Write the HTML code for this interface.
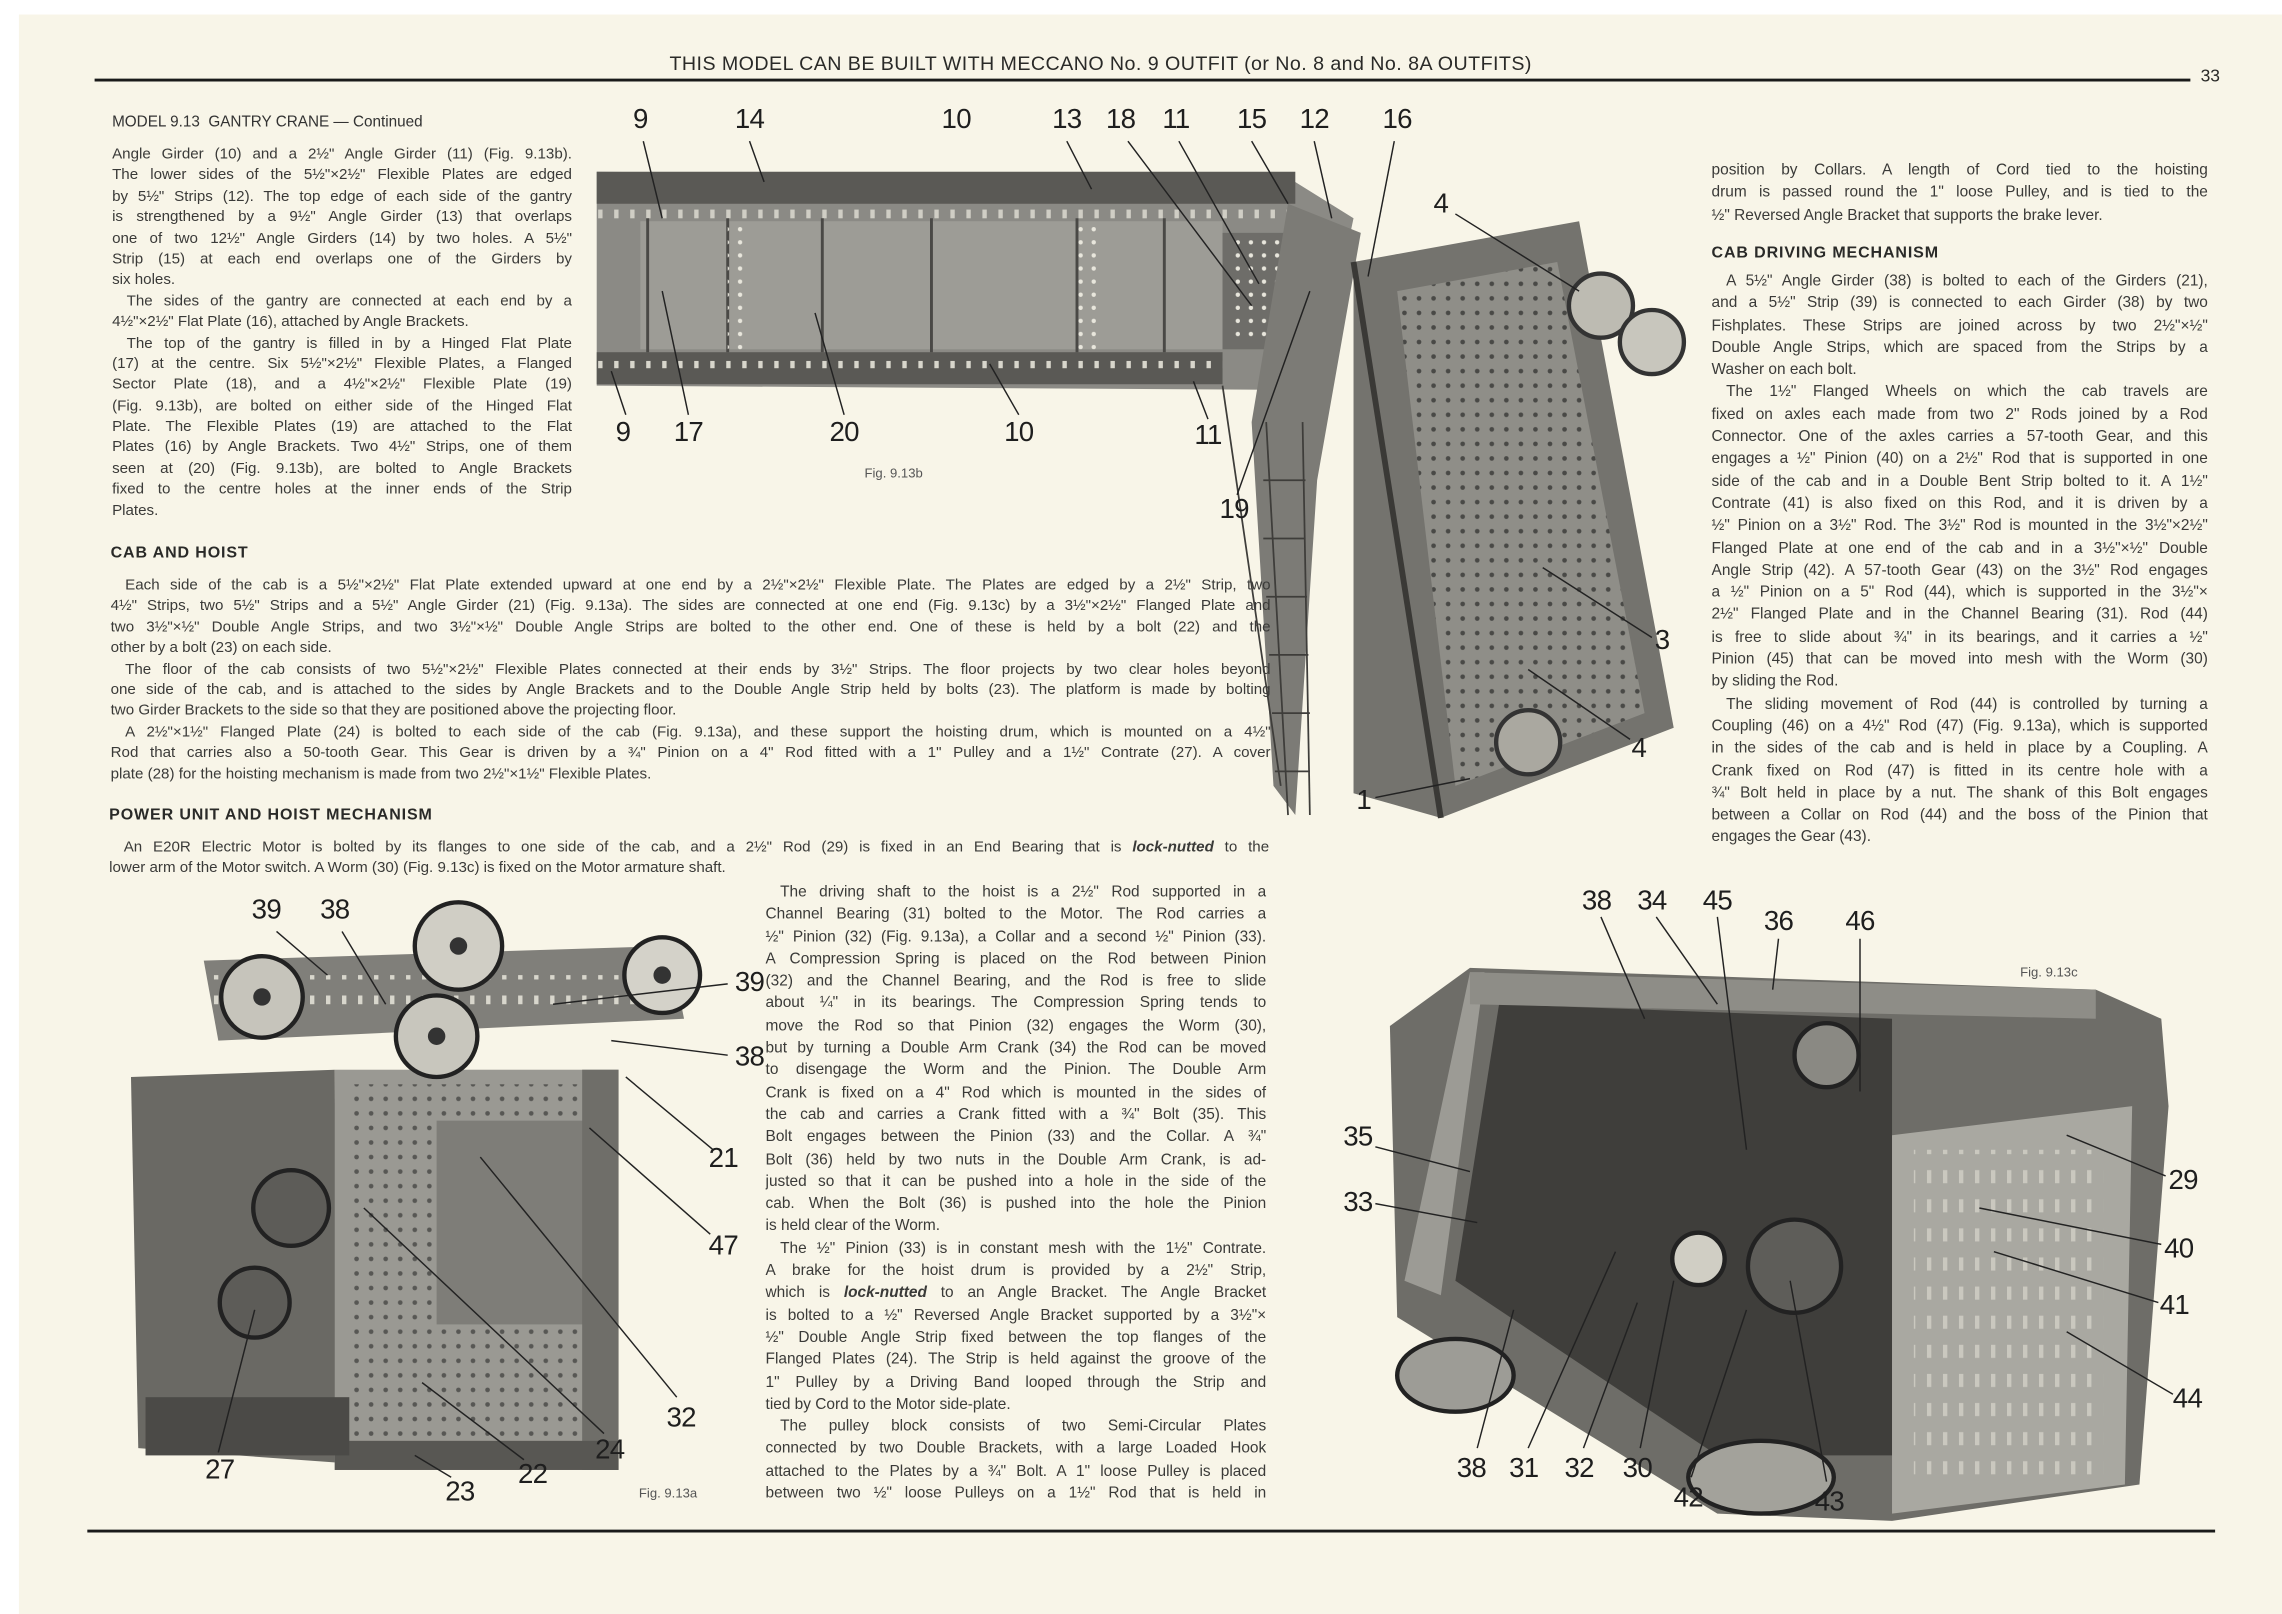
<!DOCTYPE html>
<html><head><meta charset="utf-8">
<style>
html,body{margin:0;padding:0;background:#fff;}
body{width:2282px;height:1614px;overflow:hidden;position:relative;}
#pg{position:absolute;left:0;top:0;width:1568px;height:1109px;transform:scale(1.4554);transform-origin:0 0;background:#fff;}
#paper{position:absolute;left:13px;top:10px;width:1555px;height:1099px;background:#f8f5e8;}
.t{position:absolute;font-family:"Liberation Sans",sans-serif;color:#3a3a38;font-size:10.4px;}
.t div{height:14.4px;line-height:14.4px;white-space:nowrap;text-align:justify;text-align-last:justify;overflow:hidden;}
.t div.e{text-align-last:left;}
.t div.i{text-indent:10px;}
.m{font-size:10.6px;}
.m div{height:15.3px;line-height:15.3px;}
.h{position:absolute;font-family:"Liberation Sans",sans-serif;font-weight:bold;font-size:11px;letter-spacing:0.6px;color:#2a2a28;}
.n{position:absolute;font-family:"Liberation Sans",sans-serif;font-size:19px;color:#1e1e1e;transform:translate(-50%,-50%);transform-origin:center;letter-spacing:-0.5px;}
.f{position:absolute;font-family:"Liberation Sans",sans-serif;font-size:9px;color:#555;}
</style></head><body>
<div id="pg">
<div id="paper"></div>

<svg style="position:absolute;left:0;top:0" width="1568" height="1109" viewBox="0 0 1568 1109">
<defs>
<pattern id="holes" width="9" height="9" patternUnits="userSpaceOnUse"><circle cx="4.5" cy="4.5" r="1.5" fill="#e8e6dc"/></pattern>
<pattern id="slots" width="11" height="20" patternUnits="userSpaceOnUse"><rect x="4" y="4" width="3" height="9" fill="#d8d6cc"/></pattern>
<pattern id="dholes" width="10" height="10" patternUnits="userSpaceOnUse"><circle cx="5" cy="5" r="1.6" fill="#2b2b2a"/></pattern>
</defs>
<line x1="65" y1="55" x2="1505" y2="55" stroke="#1a1a1a" stroke-width="2"/>
<line x1="60" y1="1052" x2="1522" y2="1052" stroke="#1a1a1a" stroke-width="2"/>

<!-- Fig 9.13b gantry -->
<polygon points="410,118 885,122 930,150 905,268 410,265" fill="#8b8a85"/>
<rect x="410" y="118" width="480" height="22" fill="#5a5955"/>
<rect x="410" y="140" width="480" height="10" fill="url(#slots)" opacity="0.9"/>
<rect x="410" y="242" width="430" height="22" fill="#5a5955"/>
<rect x="410" y="248" width="430" height="12" fill="url(#slots)"/>
<rect x="440" y="152" width="400" height="88" fill="#9d9c96"/>
<g stroke="#4a4946" stroke-width="2">
<line x1="445" y1="150" x2="445" y2="242"/><line x1="500" y1="150" x2="500" y2="242"/>
<line x1="565" y1="150" x2="565" y2="242"/><line x1="640" y1="150" x2="640" y2="242"/>
<line x1="740" y1="150" x2="740" y2="242"/><line x1="800" y1="150" x2="800" y2="242"/>
</g>
<rect x="500" y="152" width="16" height="88" fill="url(#holes)"/>
<rect x="740" y="152" width="16" height="88" fill="url(#holes)"/>
<rect x="840" y="160" width="60" height="80" fill="#6e6d69"/>
<rect x="845" y="165" width="40" height="70" fill="url(#holes)"/>
<polygon points="885,140 935,160 905,330 890,560 875,540 860,290" fill="#7c7b76"/>
<g stroke="#3e3d3a" stroke-width="1.2">
<line x1="870" y1="290" x2="885" y2="560"/><line x1="895" y1="290" x2="900" y2="560"/>
<line x1="868" y1="330" x2="897" y2="330"/><line x1="868" y1="370" x2="897" y2="370"/>
<line x1="870" y1="410" x2="898" y2="410"/><line x1="872" y1="450" x2="899" y2="450"/>
<line x1="874" y1="490" x2="900" y2="490"/><line x1="876" y1="530" x2="900" y2="530"/>
<line x1="840" y1="265" x2="880" y2="540"/>
</g>
<polygon points="930,180 1085,152 1150,500 990,562 930,545" fill="#74736e"/>
<polygon points="960,200 1070,180 1130,490 1000,540" fill="#8f8e88"/>
<polygon points="960,200 1070,180 1130,490 1000,540" fill="url(#dholes)" opacity="0.7"/>
<circle cx="1100" cy="210" r="22" fill="#bdbbb2" stroke="#333" stroke-width="3"/>
<circle cx="1135" cy="235" r="22" fill="#c8c6bd" stroke="#333" stroke-width="3"/>
<circle cx="1050" cy="510" r="22" fill="#aaa8a0" stroke="#333" stroke-width="3"/>
<line x1="930" y1="180" x2="990" y2="562" stroke="#3a3936" stroke-width="4"/>
<g stroke="#222" stroke-width="1">
<line x1="442" y1="97" x2="455" y2="150"/><line x1="515" y1="97" x2="525" y2="125"/>
<line x1="733" y1="97" x2="750" y2="130"/><line x1="775" y1="97" x2="860" y2="210"/>
<line x1="810" y1="97" x2="865" y2="195"/><line x1="860" y1="97" x2="885" y2="140"/>
<line x1="903" y1="97" x2="915" y2="150"/><line x1="958" y1="97" x2="940" y2="190"/>
<line x1="1000" y1="147" x2="1085" y2="200"/><line x1="430" y1="285" x2="420" y2="255"/>
<line x1="473" y1="285" x2="455" y2="200"/><line x1="580" y1="285" x2="560" y2="215"/>
<line x1="700" y1="285" x2="680" y2="250"/><line x1="830" y1="288" x2="820" y2="262"/>
<line x1="850" y1="340" x2="900" y2="200"/><line x1="1135" y1="438" x2="1060" y2="390"/>
<line x1="1120" y1="508" x2="1050" y2="460"/><line x1="945" y1="548" x2="1010" y2="535"/>
</g>

<!-- Fig 9.13a cab -->
<polygon points="90,740 230,735 232,1005 95,995" fill="#6a6964"/>
<rect x="230" y="735" width="195" height="275" fill="#9a9993"/>
<rect x="240" y="745" width="175" height="255" fill="url(#dholes)" opacity="0.6"/>
<rect x="300" y="770" width="110" height="140" fill="#7e7d78"/>
<rect x="400" y="735" width="25" height="275" fill="#6f6e69"/>
<rect x="230" y="990" width="195" height="20" fill="#585753"/>
<polygon points="140,660 460,650 470,700 150,715" fill="#807f7a"/>
<rect x="145" y="670" width="320" height="20" fill="url(#slots)"/>
<g stroke="#222" stroke-width="3">
<circle cx="180" cy="685" r="28" fill="#c6c4bb"/><circle cx="315" cy="650" r="30" fill="#d0cec5"/>
<circle cx="300" cy="712" r="28" fill="#c8c6bd"/><circle cx="455" cy="670" r="26" fill="#d4d2c9"/>
<circle cx="200" cy="830" r="26" fill="#5d5c58"/><circle cx="175" cy="895" r="24" fill="#5d5c58"/>
</g>
<circle cx="180" cy="685" r="6" fill="#333"/><circle cx="315" cy="650" r="6" fill="#333"/>
<circle cx="300" cy="712" r="6" fill="#333"/><circle cx="455" cy="670" r="6" fill="#333"/>
<rect x="100" y="960" width="140" height="40" fill="#4b4a47"/>
<g stroke="#222" stroke-width="1">
<line x1="190" y1="640" x2="225" y2="670"/><line x1="235" y1="640" x2="265" y2="690"/>
<line x1="500" y1="676" x2="380" y2="690"/><line x1="500" y1="725" x2="420" y2="715"/>
<line x1="490" y1="790" x2="430" y2="740"/><line x1="488" y1="848" x2="405" y2="775"/>
<line x1="465" y1="960" x2="330" y2="795"/><line x1="415" y1="985" x2="250" y2="830"/>
<line x1="360" y1="1003" x2="290" y2="950"/><line x1="310" y1="1015" x2="285" y2="1000"/>
<line x1="150" y1="998" x2="175" y2="900"/>
</g>

<!-- Fig 9.13c -->
<polygon points="1010,665 1440,680 1485,700 1490,760 1470,1020 1300,1045 1180,1040 960,905 955,705" fill="#6e6d68"/>
<polygon points="1030,690 1300,700 1300,1000 1180,1000 1000,880" fill="#3f3e3b"/>
<polygon points="1300,780 1465,760 1460,1020 1300,1040" fill="#a9a8a1"/>
<rect x="1315" y="790" width="130" height="230" fill="url(#slots)" opacity="0.7"/>
<polygon points="1010,668 1020,668 990,890 965,880" fill="#9c9b95"/>
<polygon points="1010,668 1440,680 1440,700 1010,690" fill="#8e8d87"/>
<g stroke="#222" stroke-width="3">
<circle cx="1233" cy="870" r="32" fill="#5e5d59"/><circle cx="1167" cy="865" r="18" fill="#d0cec4"/>
<ellipse cx="1000" cy="945" rx="40" ry="25" fill="#9d9c96"/><ellipse cx="1210" cy="1015" rx="50" ry="25" fill="#a3a29b"/>
<circle cx="1255" cy="725" r="22" fill="#8a8983"/>
</g>
<g stroke="#222" stroke-width="1">
<line x1="1100" y1="630" x2="1130" y2="700"/><line x1="1138" y1="630" x2="1180" y2="690"/>
<line x1="1180" y1="630" x2="1200" y2="790"/><line x1="1222" y1="645" x2="1218" y2="680"/>
<line x1="1278" y1="645" x2="1278" y2="750"/><line x1="945" y1="788" x2="1010" y2="805"/>
<line x1="945" y1="827" x2="1015" y2="840"/><line x1="1488" y1="808" x2="1420" y2="780"/>
<line x1="1485" y1="855" x2="1360" y2="830"/><line x1="1483" y1="895" x2="1370" y2="860"/>
<line x1="1493" y1="958" x2="1420" y2="915"/><line x1="1015" y1="995" x2="1040" y2="900"/>
<line x1="1050" y1="995" x2="1110" y2="860"/><line x1="1088" y1="995" x2="1125" y2="895"/>
<line x1="1127" y1="995" x2="1150" y2="880"/><line x1="1162" y1="1015" x2="1200" y2="900"/>
<line x1="1255" y1="1018" x2="1230" y2="880"/>
</g>
</svg>

<div style="position:absolute;left:460px;top:36px;font-family:'Liberation Sans',sans-serif;font-size:13.5px;color:#2a2a28;letter-spacing:0.3px;white-space:nowrap">THIS MODEL CAN BE BUILT WITH MECCANO No. 9 OUTFIT (or No. 8 and No. 8A OUTFITS)</div>
<div style="position:absolute;left:1512px;top:45px;font-family:'Liberation Sans',sans-serif;font-size:12px;color:#2a2a28">33</div>

<div style="position:absolute;left:77px;top:78px;font-family:'Liberation Sans',sans-serif;font-size:10.5px;color:#333">MODEL 9.13&nbsp; GANTRY CRANE — Continued</div>
<div class="t" style="left:77px;top:100px;width:316px">
<div>Angle Girder (10) and a 2½" Angle Girder (11) (Fig. 9.13b).</div>
<div>The lower sides of the 5½"×2½" Flexible Plates are edged</div>
<div>by 5½" Strips (12). The top edge of each side of the gantry</div>
<div>is strengthened by a 9½" Angle Girder (13) that overlaps</div>
<div>one of two 12½" Angle Girders (14) by two holes. A 5½"</div>
<div>Strip (15) at each end overlaps one of the Girders by</div>
<div class="e">six holes.</div>
<div class="i">The sides of the gantry are connected at each end by a</div>
<div class="e">4½"×2½" Flat Plate (16), attached by Angle Brackets.</div>
<div class="i">The top of the gantry is filled in by a Hinged Flat Plate</div>
<div>(17) at the centre. Six 5½"×2½" Flexible Plates, a Flanged</div>
<div>Sector Plate (18), and a 4½"×2½" Flexible Plate (19)</div>
<div>(Fig. 9.13b), are bolted on either side of the Hinged Flat</div>
<div>Plate. The Flexible Plates (19) are attached to the Flat</div>
<div>Plates (16) by Angle Brackets. Two 4½" Strips, one of them</div>
<div>seen at (20) (Fig. 9.13b), are bolted to Angle Brackets</div>
<div>fixed to the centre holes at the inner ends of the Strip</div>
<div class="e">Plates.</div>
</div>

<div class="h" style="left:76px;top:374px">CAB AND HOIST</div>
<div class="t" style="left:76px;top:396px;width:797px">
<div class="i">Each side of the cab is a 5½"×2½" Flat Plate extended upward at one end by a 2½"×2½" Flexible Plate. The Plates are edged by a 2½" Strip, two</div>
<div>4½" Strips, two 5½" Strips and a 5½" Angle Girder (21) (Fig. 9.13a). The sides are connected at one end (Fig. 9.13c) by a 3½"×2½" Flanged Plate and</div>
<div>two 3½"×½" Double Angle Strips, and two 3½"×½" Double Angle Strips are bolted to the other end. One of these is held by a bolt (22) and the</div>
<div class="e">other by a bolt (23) on each side.</div>
<div class="i">The floor of the cab consists of two 5½"×2½" Flexible Plates connected at their ends by 3½" Strips. The floor projects by two clear holes beyond</div>
<div>one side of the cab, and is attached to the sides by Angle Brackets and to the Double Angle Strip held by bolts (23). The platform is made by bolting</div>
<div class="e">two Girder Brackets to the side so that they are positioned above the projecting floor.</div>
<div class="i">A 2½"×1½" Flanged Plate (24) is bolted to each side of the cab (Fig. 9.13a), and these support the hoisting drum, which is mounted on a 4½"</div>
<div>Rod that carries also a 50-tooth Gear. This Gear is driven by a ¾" Pinion on a 4" Rod fitted with a 1" Pulley and a 1½" Contrate (27). A cover</div>
<div class="e">plate (28) for the hoisting mechanism is made from two 2½"×1½" Flexible Plates.</div>
</div>

<div class="h" style="left:75px;top:554px">POWER UNIT AND HOIST MECHANISM</div>
<div class="t" style="left:75px;top:576px;width:797px">
<div class="i">An E20R Electric Motor is bolted by its flanges to one side of the cab, and a 2½" Rod (29) is fixed in an End Bearing that is <b><i>lock-nutted</i></b> to the</div>
<div class="e">lower arm of the Motor switch. A Worm (30) (Fig. 9.13c) is fixed on the Motor armature shaft.</div>
</div>

<div class="t m" style="left:526px;top:606px;width:344px">
<div class="i">The driving shaft to the hoist is a 2½" Rod supported in a</div>
<div>Channel Bearing (31) bolted to the Motor. The Rod carries a</div>
<div>½" Pinion (32) (Fig. 9.13a), a Collar and a second ½" Pinion (33).</div>
<div>A Compression Spring is placed on the Rod between Pinion</div>
<div>(32) and the Channel Bearing, and the Rod is free to slide</div>
<div>about ¼" in its bearings. The Compression Spring tends to</div>
<div>move the Rod so that Pinion (32) engages the Worm (30),</div>
<div>but by turning a Double Arm Crank (34) the Rod can be moved</div>
<div>to disengage the Worm and the Pinion. The Double Arm</div>
<div>Crank is fixed on a 4" Rod which is mounted in the sides of</div>
<div>the cab and carries a Crank fitted with a ¾" Bolt (35). This</div>
<div>Bolt engages between the Pinion (33) and the Collar. A ¾"</div>
<div>Bolt (36) held by two nuts in the Double Arm Crank, is ad-</div>
<div>justed so that it can be pushed into a hole in the side of the</div>
<div>cab. When the Bolt (36) is pushed into the hole the Pinion</div>
<div class="e">is held clear of the Worm.</div>
<div class="i">The ½" Pinion (33) is in constant mesh with the 1½" Contrate.</div>
<div>A brake for the hoist drum is provided by a 2½" Strip,</div>
<div>which is <b><i>lock-nutted</i></b> to an Angle Bracket. The Angle Bracket</div>
<div>is bolted to a ½" Reversed Angle Bracket supported by a 3½"×</div>
<div>½" Double Angle Strip fixed between the top flanges of the</div>
<div>Flanged Plates (24). The Strip is held against the groove of the</div>
<div>1" Pulley by a Driving Band looped through the Strip and</div>
<div class="e">tied by Cord to the Motor side-plate.</div>
<div class="i">The pulley block consists of two Semi-Circular Plates</div>
<div>connected by two Double Brackets, with a large Loaded Hook</div>
<div>attached to the Plates by a ¾" Bolt. A 1" loose Pulley is placed</div>
<div>between two ½" loose Pulleys on a 1½" Rod that is held in</div>
</div>

<div class="t m" style="left:1176px;top:110px;width:341px">
<div>position by Collars. A length of Cord tied to the hoisting</div>
<div>drum is passed round the 1" loose Pulley, and is tied to the</div>
<div class="e">½" Reversed Angle Bracket that supports the brake lever.</div>
</div>
<div class="h" style="left:1176px;top:168px">CAB DRIVING MECHANISM</div>
<div class="t m" style="left:1176px;top:186px;width:341px">
<div class="i">A 5½" Angle Girder (38) is bolted to each of the Girders (21),</div>
<div>and a 5½" Strip (39) is connected to each Girder (38) by two</div>
<div>Fishplates. These Strips are joined across by two 2½"×½"</div>
<div>Double Angle Strips, which are spaced from the Strips by a</div>
<div class="e">Washer on each bolt.</div>
<div class="i">The 1½" Flanged Wheels on which the cab travels are</div>
<div>fixed on axles each made from two 2" Rods joined by a Rod</div>
<div>Connector. One of the axles carries a 57-tooth Gear, and this</div>
<div>engages a ½" Pinion (40) on a 2½" Rod that is supported in one</div>
<div>side of the cab and in a Double Bent Strip bolted to it. A 1½"</div>
<div>Contrate (41) is also fixed on this Rod, and it is driven by a</div>
<div>½" Pinion on a 3½" Rod. The 3½" Rod is mounted in the 3½"×2½"</div>
<div>Flanged Plate at one end of the cab and in a 3½"×½" Double</div>
<div>Angle Strip (42). A 57-tooth Gear (43) on the 3½" Rod engages</div>
<div>a ½" Pinion on a 5" Rod (44), which is supported in the 3½"×</div>
<div>2½" Flanged Plate and in the Channel Bearing (31). Rod (44)</div>
<div>is free to slide about ¾" in its bearings, and it carries a ½"</div>
<div>Pinion (45) that can be moved into mesh with the Worm (30)</div>
<div class="e">by sliding the Rod.</div>
<div class="i">The sliding movement of Rod (44) is controlled by turning a</div>
<div>Coupling (46) on a 4½" Rod (47) (Fig. 9.13a), which is supported</div>
<div>in the sides of the cab and is held in place by a Coupling. A</div>
<div>Crank fixed on Rod (47) is fitted in its centre hole with a</div>
<div>¾" Bolt held in place by a nut. The shank of this Bolt engages</div>
<div>between a Collar on Rod (44) and the boss of the Pinion that</div>
<div class="e">engages the Gear (43).</div>
</div>

<div class="f" style="left:594px;top:320px">Fig. 9.13b</div>
<div class="f" style="left:439px;top:1021px">Fig. 9.13a</div>
<div class="f" style="left:1388px;top:663px">Fig. 9.13c</div>

<div class="n" style="left:440px;top:83px">9</div>
<div class="n" style="left:515px;top:83px">14</div>
<div class="n" style="left:657px;top:83px">10</div>
<div class="n" style="left:733px;top:83px">13</div>
<div class="n" style="left:770px;top:83px">18</div>
<div class="n" style="left:808px;top:83px">11</div>
<div class="n" style="left:860px;top:83px">15</div>
<div class="n" style="left:903px;top:83px">12</div>
<div class="n" style="left:960px;top:83px">16</div>
<div class="n" style="left:990px;top:141px">4</div>
<div class="n" style="left:428px;top:298px">9</div>
<div class="n" style="left:473px;top:298px">17</div>
<div class="n" style="left:580px;top:298px">20</div>
<div class="n" style="left:700px;top:298px">10</div>
<div class="n" style="left:830px;top:300px">11</div>
<div class="n" style="left:848px;top:351px">19</div>
<div class="n" style="left:1142px;top:441px">3</div>
<div class="n" style="left:1126px;top:515px">4</div>
<div class="n" style="left:937px;top:551px">1</div>
<div class="n" style="left:183px;top:626px">39</div>
<div class="n" style="left:230px;top:626px">38</div>
<div class="n" style="left:515px;top:676px">39</div>
<div class="n" style="left:515px;top:727px">38</div>
<div class="n" style="left:497px;top:797px">21</div>
<div class="n" style="left:497px;top:857px">47</div>
<div class="n" style="left:468px;top:975px">32</div>
<div class="n" style="left:419px;top:997px">24</div>
<div class="n" style="left:366px;top:1014px">22</div>
<div class="n" style="left:151px;top:1011px">27</div>
<div class="n" style="left:316px;top:1026px">23</div>
<div class="n" style="left:1097px;top:620px">38</div>
<div class="n" style="left:1135px;top:620px">34</div>
<div class="n" style="left:1180px;top:620px">45</div>
<div class="n" style="left:1222px;top:634px">36</div>
<div class="n" style="left:1278px;top:634px">46</div>
<div class="n" style="left:933px;top:782px">35</div>
<div class="n" style="left:933px;top:827px">33</div>
<div class="n" style="left:1500px;top:812px">29</div>
<div class="n" style="left:1497px;top:859px">40</div>
<div class="n" style="left:1494px;top:898px">41</div>
<div class="n" style="left:1503px;top:962px">44</div>
<div class="n" style="left:1011px;top:1010px">38</div>
<div class="n" style="left:1047px;top:1010px">31</div>
<div class="n" style="left:1085px;top:1010px">32</div>
<div class="n" style="left:1125px;top:1010px">30</div>
<div class="n" style="left:1160px;top:1030px">42</div>
<div class="n" style="left:1257px;top:1033px">43</div>
</div>
</body></html>
